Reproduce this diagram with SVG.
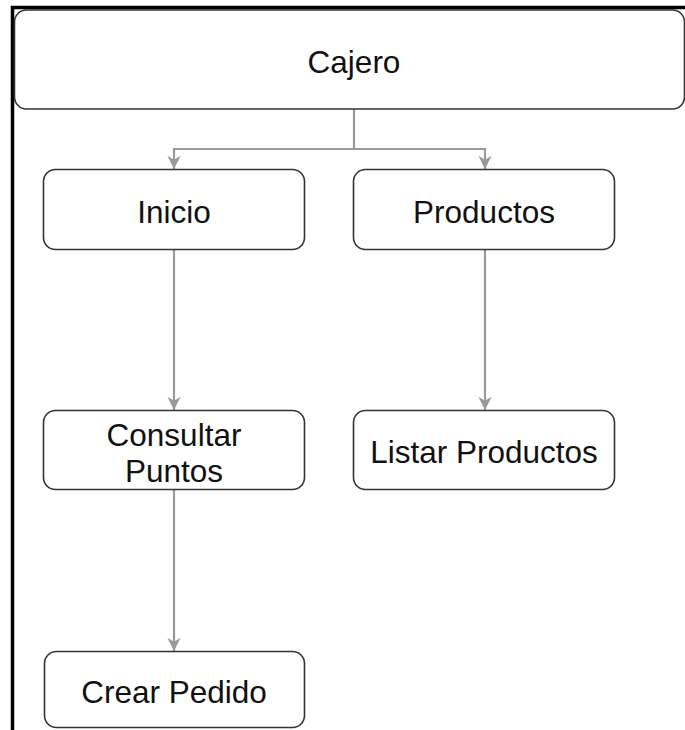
<svg xmlns="http://www.w3.org/2000/svg" width="685" height="730" viewBox="0 0 685 730">
<defs>
<style>
.box{fill:#fff;stroke:#333;stroke-width:1.6}
.lbl{font-family:"Liberation Sans",Arial,sans-serif;font-size:31.5px;fill:#111;text-anchor:middle}
.edge{fill:none;stroke:#999;stroke-width:2.2}
.frame{stroke:#000;stroke-width:3.5;fill:none}
</style>
<marker id="arr" viewBox="0 0 10 10" refX="10" refY="5" markerWidth="6" markerHeight="6" markerUnits="strokeWidth" orient="auto">
<path d="M0,0 L10,5 L0,10 L3,5 Z" fill="#999"/>
</marker>
</defs>
<rect width="685" height="730" fill="#fff"/>
<path class="frame" d="M12.5,730 V7.5 H685"/>
<g id="connectors">
<path class="edge" d="M354,109 V149 H174 V169" marker-end="url(#arr)"/>
<path class="edge" d="M354,149 H485 V169" marker-end="url(#arr)"/>
<path class="edge" d="M174,250 V410" marker-end="url(#arr)"/>
<path class="edge" d="M485,250 V410" marker-end="url(#arr)"/>
<path class="edge" d="M174,490 V651" marker-end="url(#arr)"/>
</g>
<g id="cajero">
<rect class="box" x="14.5" y="10" width="670" height="99" rx="12"/>
<text class="lbl" x="354" y="73">Cajero</text>
</g>
<g id="inicio">
<rect class="box" x="43.5" y="169.5" width="261" height="80" rx="12"/>
<text class="lbl" x="174" y="223">Inicio</text>
</g>
<g id="productos">
<rect class="box" x="353.5" y="169.5" width="261" height="80" rx="12"/>
<text class="lbl" x="484" y="223">Productos</text>
</g>
<g id="consultar">
<rect class="box" x="43.5" y="410.5" width="261" height="79" rx="12"/>
<text class="lbl" x="174" y="446">Consultar</text>
<text class="lbl" x="174" y="482">Puntos</text>
</g>
<g id="listar">
<rect class="box" x="353.5" y="410.5" width="261" height="79" rx="12"/>
<text class="lbl" x="484" y="463">Listar Productos</text>
</g>
<g id="crear">
<rect class="box" x="44.5" y="651.5" width="260" height="76" rx="12"/>
<text class="lbl" x="174" y="703">Crear Pedido</text>
</g>
</svg>
